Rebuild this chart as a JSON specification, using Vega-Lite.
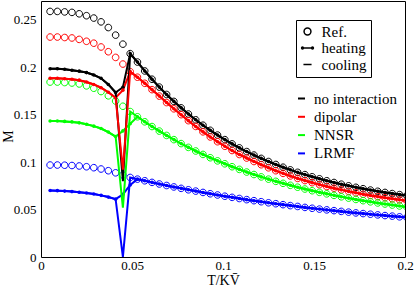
{
 "$schema": "https://vega.github.io/schema/vega-lite/v6.json",
 "width": 364, "height": 256,
 "autosize": {"type": "none"},
 "padding": {"left": 41, "top": 1, "right": 10, "bottom": 30},
 "background": "white",
 "config": {"view": {"stroke": null}, "font": "Liberation Serif, Times New Roman, serif"},
 "data": {"values": [
  {"T":0.005,"s":"no interaction","r":0.259,"h":0.1985,"c":0.1985},
  {"T":0.009,"s":"no interaction","r":0.259,"h":0.1985,"c":0.1985},
  {"T":0.013,"s":"no interaction","r":0.2585,"h":0.198,"c":0.198},
  {"T":0.017,"s":"no interaction","r":0.258,"h":0.197,"c":0.197},
  {"T":0.021,"s":"no interaction","r":0.2565,"h":0.196,"c":0.196},
  {"T":0.025,"s":"no interaction","r":0.2545,"h":0.1945,"c":0.1945},
  {"T":0.029,"s":"no interaction","r":0.252,"h":0.192,"c":0.192},
  {"T":0.033,"s":"no interaction","r":0.248,"h":0.1885,"c":0.1885},
  {"T":0.037,"s":"no interaction","r":0.242,"h":0.182,"c":0.182},
  {"T":0.041,"s":"no interaction","r":0.234,"h":0.1735,"c":0.1735},
  {"T":0.045,"s":"no interaction","r":0.2245,"h":0.179,"c":0.08},
  {"T":0.049,"s":"no interaction","r":0.2145,"h":0.2145,"c":0.2145},
  {"T":0.053,"s":"no interaction","r":0.2056,"h":0.2056,"c":0.2056},
  {"T":0.057,"s":"no interaction","r":0.1962,"h":0.1962,"c":0.1962},
  {"T":0.061,"s":"no interaction","r":0.1875,"h":0.1875,"c":0.1875},
  {"T":0.065,"s":"no interaction","r":0.1792,"h":0.1792,"c":0.1792},
  {"T":0.069,"s":"no interaction","r":0.1714,"h":0.1714,"c":0.1714},
  {"T":0.073,"s":"no interaction","r":0.1641,"h":0.1641,"c":0.1641},
  {"T":0.077,"s":"no interaction","r":0.1573,"h":0.1573,"c":0.1573},
  {"T":0.081,"s":"no interaction","r":0.1508,"h":0.1508,"c":0.1508},
  {"T":0.085,"s":"no interaction","r":0.1447,"h":0.1447,"c":0.1447},
  {"T":0.089,"s":"no interaction","r":0.139,"h":0.139,"c":0.139},
  {"T":0.093,"s":"no interaction","r":0.1336,"h":0.1336,"c":0.1336},
  {"T":0.097,"s":"no interaction","r":0.1286,"h":0.1286,"c":0.1286},
  {"T":0.101,"s":"no interaction","r":0.1238,"h":0.1238,"c":0.1238},
  {"T":0.105,"s":"no interaction","r":0.1193,"h":0.1193,"c":0.1193},
  {"T":0.109,"s":"no interaction","r":0.1151,"h":0.1151,"c":0.1151},
  {"T":0.113,"s":"no interaction","r":0.1112,"h":0.1112,"c":0.1112},
  {"T":0.117,"s":"no interaction","r":0.1075,"h":0.1075,"c":0.1075},
  {"T":0.121,"s":"no interaction","r":0.104,"h":0.104,"c":0.104},
  {"T":0.125,"s":"no interaction","r":0.1007,"h":0.1007,"c":0.1007},
  {"T":0.129,"s":"no interaction","r":0.0976,"h":0.0976,"c":0.0976},
  {"T":0.133,"s":"no interaction","r":0.0947,"h":0.0947,"c":0.0947},
  {"T":0.137,"s":"no interaction","r":0.0919,"h":0.0919,"c":0.0919},
  {"T":0.141,"s":"no interaction","r":0.0893,"h":0.0893,"c":0.0893},
  {"T":0.145,"s":"no interaction","r":0.0869,"h":0.0869,"c":0.0869},
  {"T":0.149,"s":"no interaction","r":0.0846,"h":0.0846,"c":0.0846},
  {"T":0.153,"s":"no interaction","r":0.0825,"h":0.0825,"c":0.0825},
  {"T":0.157,"s":"no interaction","r":0.0804,"h":0.0804,"c":0.0804},
  {"T":0.161,"s":"no interaction","r":0.0786,"h":0.0786,"c":0.0786},
  {"T":0.165,"s":"no interaction","r":0.0768,"h":0.0768,"c":0.0768},
  {"T":0.169,"s":"no interaction","r":0.0751,"h":0.0751,"c":0.0751},
  {"T":0.173,"s":"no interaction","r":0.0735,"h":0.0735,"c":0.0735},
  {"T":0.177,"s":"no interaction","r":0.072,"h":0.072,"c":0.072},
  {"T":0.181,"s":"no interaction","r":0.0706,"h":0.0706,"c":0.0706},
  {"T":0.185,"s":"no interaction","r":0.0693,"h":0.0693,"c":0.0693},
  {"T":0.189,"s":"no interaction","r":0.0681,"h":0.0681,"c":0.0681},
  {"T":0.193,"s":"no interaction","r":0.0669,"h":0.0669,"c":0.0669},
  {"T":0.197,"s":"no interaction","r":0.0658,"h":0.0658,"c":0.0658},
  {"T":0.201,"s":"no interaction","r":0.0648,"h":0.0648,"c":0.0648},

  {"T":0.005,"s":"dipolar","r":0.232,"h":0.1885,"c":0.1885},
  {"T":0.009,"s":"dipolar","r":0.232,"h":0.1885,"c":0.1885},
  {"T":0.013,"s":"dipolar","r":0.2315,"h":0.188,"c":0.188},
  {"T":0.017,"s":"dipolar","r":0.231,"h":0.1875,"c":0.1875},
  {"T":0.021,"s":"dipolar","r":0.2295,"h":0.1865,"c":0.1865},
  {"T":0.025,"s":"dipolar","r":0.2275,"h":0.1845,"c":0.1845},
  {"T":0.029,"s":"dipolar","r":0.2255,"h":0.182,"c":0.182},
  {"T":0.033,"s":"dipolar","r":0.2215,"h":0.1785,"c":0.1785},
  {"T":0.037,"s":"dipolar","r":0.2165,"h":0.1738,"c":0.1738},
  {"T":0.041,"s":"dipolar","r":0.2105,"h":0.168,"c":0.168},
  {"T":0.045,"s":"dipolar","r":0.2035,"h":0.176,"c":0.092},
  {"T":0.049,"s":"dipolar","r":0.1955,"h":0.1955,"c":0.1955},
  {"T":0.053,"s":"dipolar","r":0.1896,"h":0.1896,"c":0.1896},
  {"T":0.057,"s":"dipolar","r":0.1832,"h":0.1832,"c":0.1832},
  {"T":0.061,"s":"dipolar","r":0.1765,"h":0.1765,"c":0.1765},
  {"T":0.065,"s":"dipolar","r":0.1697,"h":0.1697,"c":0.1697},
  {"T":0.069,"s":"dipolar","r":0.1629,"h":0.1629,"c":0.1629},
  {"T":0.073,"s":"dipolar","r":0.1563,"h":0.1563,"c":0.1563},
  {"T":0.077,"s":"dipolar","r":0.1501,"h":0.1501,"c":0.1501},
  {"T":0.081,"s":"dipolar","r":0.1438,"h":0.1438,"c":0.1438},
  {"T":0.085,"s":"dipolar","r":0.1377,"h":0.1377,"c":0.1377},
  {"T":0.089,"s":"dipolar","r":0.132,"h":0.132,"c":0.132},
  {"T":0.093,"s":"dipolar","r":0.1266,"h":0.1266,"c":0.1266},
  {"T":0.097,"s":"dipolar","r":0.1216,"h":0.1216,"c":0.1216},
  {"T":0.101,"s":"dipolar","r":0.1168,"h":0.1168,"c":0.1168},
  {"T":0.105,"s":"dipolar","r":0.1123,"h":0.1123,"c":0.1123},
  {"T":0.109,"s":"dipolar","r":0.1081,"h":0.1081,"c":0.1081},
  {"T":0.113,"s":"dipolar","r":0.1044,"h":0.1044,"c":0.1044},
  {"T":0.117,"s":"dipolar","r":0.1007,"h":0.1007,"c":0.1007},
  {"T":0.121,"s":"dipolar","r":0.0973,"h":0.0973,"c":0.0973},
  {"T":0.125,"s":"dipolar","r":0.0941,"h":0.0941,"c":0.0941},
  {"T":0.129,"s":"dipolar","r":0.091,"h":0.091,"c":0.091},
  {"T":0.133,"s":"dipolar","r":0.0882,"h":0.0882,"c":0.0882},
  {"T":0.137,"s":"dipolar","r":0.0855,"h":0.0855,"c":0.0855},
  {"T":0.141,"s":"dipolar","r":0.0829,"h":0.0829,"c":0.0829},
  {"T":0.145,"s":"dipolar","r":0.0806,"h":0.0806,"c":0.0806},
  {"T":0.149,"s":"dipolar","r":0.0784,"h":0.0784,"c":0.0784},
  {"T":0.153,"s":"dipolar","r":0.0763,"h":0.0763,"c":0.0763},
  {"T":0.157,"s":"dipolar","r":0.0743,"h":0.0743,"c":0.0743},
  {"T":0.161,"s":"dipolar","r":0.0726,"h":0.0726,"c":0.0726},
  {"T":0.165,"s":"dipolar","r":0.0708,"h":0.0708,"c":0.0708},
  {"T":0.169,"s":"dipolar","r":0.0692,"h":0.0692,"c":0.0692},
  {"T":0.173,"s":"dipolar","r":0.0677,"h":0.0677,"c":0.0677},
  {"T":0.177,"s":"dipolar","r":0.0662,"h":0.0662,"c":0.0662},
  {"T":0.181,"s":"dipolar","r":0.0649,"h":0.0649,"c":0.0649},
  {"T":0.185,"s":"dipolar","r":0.0637,"h":0.0637,"c":0.0637},
  {"T":0.189,"s":"dipolar","r":0.0625,"h":0.0625,"c":0.0625},
  {"T":0.193,"s":"dipolar","r":0.0614,"h":0.0614,"c":0.0614},
  {"T":0.197,"s":"dipolar","r":0.0603,"h":0.0603,"c":0.0603},
  {"T":0.201,"s":"dipolar","r":0.0594,"h":0.0594,"c":0.0594},

  {"T":0.005,"s":"NNSR","r":0.1845,"h":0.1435,"c":0.1435},
  {"T":0.009,"s":"NNSR","r":0.1845,"h":0.1435,"c":0.1435},
  {"T":0.013,"s":"NNSR","r":0.184,"h":0.143,"c":0.143},
  {"T":0.017,"s":"NNSR","r":0.1835,"h":0.1425,"c":0.1425},
  {"T":0.021,"s":"NNSR","r":0.1825,"h":0.1415,"c":0.1415},
  {"T":0.025,"s":"NNSR","r":0.1805,"h":0.14,"c":0.14},
  {"T":0.029,"s":"NNSR","r":0.178,"h":0.138,"c":0.138},
  {"T":0.033,"s":"NNSR","r":0.1745,"h":0.1355,"c":0.1355},
  {"T":0.037,"s":"NNSR","r":0.17,"h":0.1318,"c":0.1318},
  {"T":0.041,"s":"NNSR","r":0.1645,"h":0.127,"c":0.127},
  {"T":0.045,"s":"NNSR","r":0.159,"h":0.133,"c":0.052},
  {"T":0.049,"s":"NNSR","r":0.1534,"h":0.1405,"c":0.1534},
  {"T":0.053,"s":"NNSR","r":0.1479,"h":0.1479,"c":0.1479},
  {"T":0.057,"s":"NNSR","r":0.1426,"h":0.1426,"c":0.1426},
  {"T":0.061,"s":"NNSR","r":0.1376,"h":0.1376,"c":0.1376},
  {"T":0.065,"s":"NNSR","r":0.1328,"h":0.1328,"c":0.1328},
  {"T":0.069,"s":"NNSR","r":0.1282,"h":0.1282,"c":0.1282},
  {"T":0.073,"s":"NNSR","r":0.1238,"h":0.1238,"c":0.1238},
  {"T":0.077,"s":"NNSR","r":0.1196,"h":0.1196,"c":0.1196},
  {"T":0.081,"s":"NNSR","r":0.1156,"h":0.1156,"c":0.1156},
  {"T":0.085,"s":"NNSR","r":0.1118,"h":0.1118,"c":0.1118},
  {"T":0.089,"s":"NNSR","r":0.1082,"h":0.1082,"c":0.1082},
  {"T":0.093,"s":"NNSR","r":0.1047,"h":0.1047,"c":0.1047},
  {"T":0.097,"s":"NNSR","r":0.1014,"h":0.1014,"c":0.1014},
  {"T":0.101,"s":"NNSR","r":0.0983,"h":0.0983,"c":0.0983},
  {"T":0.105,"s":"NNSR","r":0.0952,"h":0.0952,"c":0.0952},
  {"T":0.109,"s":"NNSR","r":0.0924,"h":0.0924,"c":0.0924},
  {"T":0.113,"s":"NNSR","r":0.0896,"h":0.0896,"c":0.0896},
  {"T":0.117,"s":"NNSR","r":0.087,"h":0.087,"c":0.087},
  {"T":0.121,"s":"NNSR","r":0.0845,"h":0.0845,"c":0.0845},
  {"T":0.125,"s":"NNSR","r":0.0821,"h":0.0821,"c":0.0821},
  {"T":0.129,"s":"NNSR","r":0.0798,"h":0.0798,"c":0.0798},
  {"T":0.133,"s":"NNSR","r":0.0777,"h":0.0777,"c":0.0777},
  {"T":0.137,"s":"NNSR","r":0.0756,"h":0.0756,"c":0.0756},
  {"T":0.141,"s":"NNSR","r":0.0736,"h":0.0736,"c":0.0736},
  {"T":0.145,"s":"NNSR","r":0.0717,"h":0.0717,"c":0.0717},
  {"T":0.149,"s":"NNSR","r":0.0699,"h":0.0699,"c":0.0699},
  {"T":0.153,"s":"NNSR","r":0.0682,"h":0.0682,"c":0.0682},
  {"T":0.157,"s":"NNSR","r":0.0666,"h":0.0666,"c":0.0666},
  {"T":0.161,"s":"NNSR","r":0.065,"h":0.065,"c":0.065},
  {"T":0.165,"s":"NNSR","r":0.0635,"h":0.0635,"c":0.0635},
  {"T":0.169,"s":"NNSR","r":0.0621,"h":0.0621,"c":0.0621},
  {"T":0.173,"s":"NNSR","r":0.0607,"h":0.0607,"c":0.0607},
  {"T":0.177,"s":"NNSR","r":0.0594,"h":0.0594,"c":0.0594},
  {"T":0.181,"s":"NNSR","r":0.0582,"h":0.0582,"c":0.0582},
  {"T":0.185,"s":"NNSR","r":0.057,"h":0.057,"c":0.057},
  {"T":0.189,"s":"NNSR","r":0.0559,"h":0.0559,"c":0.0559},
  {"T":0.193,"s":"NNSR","r":0.0548,"h":0.0548,"c":0.0548},
  {"T":0.197,"s":"NNSR","r":0.0538,"h":0.0538,"c":0.0538},
  {"T":0.201,"s":"NNSR","r":0.0528,"h":0.0528,"c":0.0528},

  {"T":0.005,"s":"LRMF","r":0.097,"h":0.0702,"c":0.0702},
  {"T":0.009,"s":"LRMF","r":0.097,"h":0.07,"c":0.07},
  {"T":0.013,"s":"LRMF","r":0.0968,"h":0.0695,"c":0.0695},
  {"T":0.017,"s":"LRMF","r":0.0965,"h":0.069,"c":0.069},
  {"T":0.021,"s":"LRMF","r":0.096,"h":0.0683,"c":0.0683},
  {"T":0.025,"s":"LRMF","r":0.0952,"h":0.0675,"c":0.0675},
  {"T":0.029,"s":"LRMF","r":0.0942,"h":0.0665,"c":0.0665},
  {"T":0.033,"s":"LRMF","r":0.0928,"h":0.065,"c":0.065},
  {"T":0.037,"s":"LRMF","r":0.091,"h":0.0632,"c":0.0632},
  {"T":0.041,"s":"LRMF","r":0.0888,"h":0.061,"c":0.061},
  {"T":0.045,"s":"LRMF","r":0.0865,"h":0.066,"c":0.0},
  {"T":0.049,"s":"LRMF","r":0.0839,"h":0.076,"c":0.0839},
  {"T":0.053,"s":"LRMF","r":0.0821,"h":0.0821,"c":0.0821},
  {"T":0.057,"s":"LRMF","r":0.0804,"h":0.0804,"c":0.0804},
  {"T":0.061,"s":"LRMF","r":0.0787,"h":0.0787,"c":0.0787},
  {"T":0.065,"s":"LRMF","r":0.077,"h":0.077,"c":0.077},
  {"T":0.069,"s":"LRMF","r":0.0754,"h":0.0754,"c":0.0754},
  {"T":0.073,"s":"LRMF","r":0.0739,"h":0.0739,"c":0.0739},
  {"T":0.077,"s":"LRMF","r":0.0724,"h":0.0724,"c":0.0724},
  {"T":0.081,"s":"LRMF","r":0.0709,"h":0.0709,"c":0.0709},
  {"T":0.085,"s":"LRMF","r":0.0695,"h":0.0695,"c":0.0695},
  {"T":0.089,"s":"LRMF","r":0.0681,"h":0.0681,"c":0.0681},
  {"T":0.093,"s":"LRMF","r":0.0667,"h":0.0667,"c":0.0667},
  {"T":0.097,"s":"LRMF","r":0.0654,"h":0.0654,"c":0.0654},
  {"T":0.101,"s":"LRMF","r":0.0641,"h":0.0641,"c":0.0641},
  {"T":0.105,"s":"LRMF","r":0.0629,"h":0.0629,"c":0.0629},
  {"T":0.109,"s":"LRMF","r":0.0617,"h":0.0617,"c":0.0617},
  {"T":0.113,"s":"LRMF","r":0.0605,"h":0.0605,"c":0.0605},
  {"T":0.117,"s":"LRMF","r":0.0594,"h":0.0594,"c":0.0594},
  {"T":0.121,"s":"LRMF","r":0.0583,"h":0.0583,"c":0.0583},
  {"T":0.125,"s":"LRMF","r":0.0572,"h":0.0572,"c":0.0572},
  {"T":0.129,"s":"LRMF","r":0.0562,"h":0.0562,"c":0.0562},
  {"T":0.133,"s":"LRMF","r":0.0552,"h":0.0552,"c":0.0552},
  {"T":0.137,"s":"LRMF","r":0.0542,"h":0.0542,"c":0.0542},
  {"T":0.141,"s":"LRMF","r":0.0533,"h":0.0533,"c":0.0533},
  {"T":0.145,"s":"LRMF","r":0.0523,"h":0.0523,"c":0.0523},
  {"T":0.149,"s":"LRMF","r":0.0514,"h":0.0514,"c":0.0514},
  {"T":0.153,"s":"LRMF","r":0.0505,"h":0.0505,"c":0.0505},
  {"T":0.157,"s":"LRMF","r":0.0497,"h":0.0497,"c":0.0497},
  {"T":0.161,"s":"LRMF","r":0.0489,"h":0.0489,"c":0.0489},
  {"T":0.165,"s":"LRMF","r":0.0481,"h":0.0481,"c":0.0481},
  {"T":0.169,"s":"LRMF","r":0.0473,"h":0.0473,"c":0.0473},
  {"T":0.173,"s":"LRMF","r":0.0465,"h":0.0465,"c":0.0465},
  {"T":0.177,"s":"LRMF","r":0.0458,"h":0.0458,"c":0.0458},
  {"T":0.181,"s":"LRMF","r":0.0451,"h":0.0451,"c":0.0451},
  {"T":0.185,"s":"LRMF","r":0.0444,"h":0.0444,"c":0.0444},
  {"T":0.189,"s":"LRMF","r":0.0437,"h":0.0437,"c":0.0437},
  {"T":0.193,"s":"LRMF","r":0.0431,"h":0.0431,"c":0.0431},
  {"T":0.197,"s":"LRMF","r":0.0424,"h":0.0424,"c":0.0424},
  {"T":0.201,"s":"LRMF","r":0.0418,"h":0.0418,"c":0.0418}
 ]},
 "layer": [
  {"layer": [
   {"mark": {"type": "point", "filled": false, "size": 144, "strokeWidth": 1, "opacity": 1, "clip": true},
    "encoding": {
     "x": {"field": "T", "type": "quantitative", "scale": {"domain": [0, 0.2], "nice": false, "zero": false},
      "axis": {"orient": "bottom", "values": [0,0.025,0.05,0.075,0.1,0.125,0.15,0.175,0.2],
       "labelExpr": "round(datum.value*40)%2==0 ? format(datum.value,'~g') : ''",
       "labelFlush": false, "labelOverlap": false, "labelFont": "Liberation Serif, Times New Roman, serif", "labelFontSize": 13, "labelColor": "black", "labelPadding": 2,
       "tickSize": 0, "tickColor": "black", "tickWidth": 1, "domainColor": "black", "domainWidth": 1, "grid": false,
       "title": "T/KV\u0304", "titleFont": "Liberation Serif, Times New Roman, serif", "titleFontSize": 14, "titleFontWeight": "normal", "titleColor": "black",
       "titleX": 182, "titleY": 23, "titleBaseline": "middle", "titleAlign": "center",
       "encode": {"ticks": {"update": {"y2": {"signal": "round(datum.value*40)%2==0 ? -7 : -4"}}}}}},
     "y": {"field": "r", "type": "quantitative", "scale": {"domain": [0, 0.27], "nice": false, "zero": false},
      "axis": {"orient": "left", "values": [0,0.025,0.05,0.075,0.1,0.125,0.15,0.175,0.2,0.225,0.25],
       "labelExpr": "round(datum.value*40)%2==0 ? format(datum.value,'~g') : ''",
       "labelOverlap": false, "labelFont": "Liberation Serif, Times New Roman, serif", "labelFontSize": 13, "labelColor": "black", "labelPadding": 5,
       "tickSize": 0, "tickColor": "black", "tickWidth": 1, "domainColor": "black", "domainWidth": 1, "grid": false,
       "title": "M", "titleFont": "Liberation Serif, Times New Roman, serif", "titleFontSize": 14, "titleFontWeight": "normal", "titleColor": "black",
       "titleX": -32.5, "titleY": 135, "titleBaseline": "middle", "titleAlign": "center", "titleAngle": -90,
       "encode": {"ticks": {"update": {"x2": {"signal": "round(datum.value*40)%2==0 ? 7 : 4"}}}}}},
     "color": {"field": "s", "type": "nominal",
      "scale": {"domain": ["no interaction", "dipolar", "NNSR", "LRMF"], "range": ["#000000", "#ff0000", "#00ff00", "#0000ff"]},
      "legend": {"orient": "none", "legendX": 253, "legendY": 90, "title": null, "padding": 0,
       "symbolType": "stroke", "symbolSize": 49, "symbolStrokeWidth": 2,
       "labelFont": "Liberation Serif, Times New Roman, serif", "labelFontSize": 15, "labelColor": "black", "labelOffset": 5, "rowPadding": 2.3}},
     "shape": {"datum": "Ref.", "type": "nominal",
      "scale": {"domain": ["Ref.", "heating", "cooling"],
       "range": ["M0.55,0A0.55,0.55,0,1,1,-0.55,0A0.55,0.55,0,1,1,0.55,0Z",
                 "M-0.8,0H0.8M-0.65,0A0.15,0.15,0,1,1,-0.95,0A0.15,0.15,0,1,1,-0.65,0ZM0.95,0A0.15,0.15,0,1,1,0.65,0A0.15,0.15,0,1,1,0.95,0Z",
                 "M-0.65,0H0.65"]},
      "legend": {"orient": "none", "legendX": 255, "legendY": 19, "title": null, "padding": 4,
       "strokeColor": "black",
       "symbolSize": 156, "symbolStrokeColor": "black", "symbolFillColor": "transparent", "symbolStrokeWidth": 1.5, "symbolOpacity": 1,
       "labelFont": "Liberation Serif, Times New Roman, serif", "labelFontSize": 15, "labelColor": "black", "labelOffset": 6.5, "rowPadding": 0.5}}
    }},
   {"mark": {"type": "line", "strokeWidth": 2, "clip": true},
    "encoding": {
     "x": {"field": "T", "type": "quantitative"},
     "y": {"field": "h", "type": "quantitative"},
     "color": {"field": "s", "type": "nominal"}}},
   {"mark": {"type": "point", "filled": true, "size": 13, "opacity": 1, "clip": true},
    "encoding": {
     "x": {"field": "T", "type": "quantitative"},
     "y": {"field": "h", "type": "quantitative"},
     "color": {"field": "s", "type": "nominal"}}}
  ]},
  {"mark": {"type": "line", "strokeWidth": 2, "clip": true},
   "encoding": {
    "x": {"field": "T", "type": "quantitative", "scale": {"domain": [0, 0.2], "nice": false, "zero": false},
     "axis": {"orient": "top", "values": [0,0.025,0.05,0.075,0.1,0.125,0.15,0.175,0.2], "labels": false, "title": null,
      "tickSize": 0, "tickColor": "black", "tickWidth": 1, "domainColor": "black", "domainWidth": 1, "grid": false,
      "encode": {"ticks": {"update": {"y2": {"signal": "round(datum.value*40)%2==0 ? 7 : 4"}}}}}},
    "y": {"field": "c", "type": "quantitative", "scale": {"domain": [0, 0.27], "nice": false, "zero": false},
     "axis": {"orient": "right", "values": [0,0.025,0.05,0.075,0.1,0.125,0.15,0.175,0.2,0.225,0.25], "labels": false, "title": null,
      "tickSize": 0, "tickColor": "black", "tickWidth": 1, "domainColor": "black", "domainWidth": 1, "grid": false,
      "encode": {"ticks": {"update": {"x2": {"signal": "round(datum.value*40)%2==0 ? -7 : -4"}}}}}},
    "color": {"field": "s", "type": "nominal"}}}
 ],
 "resolve": {"axis": {"x": "independent", "y": "independent"}}
}
